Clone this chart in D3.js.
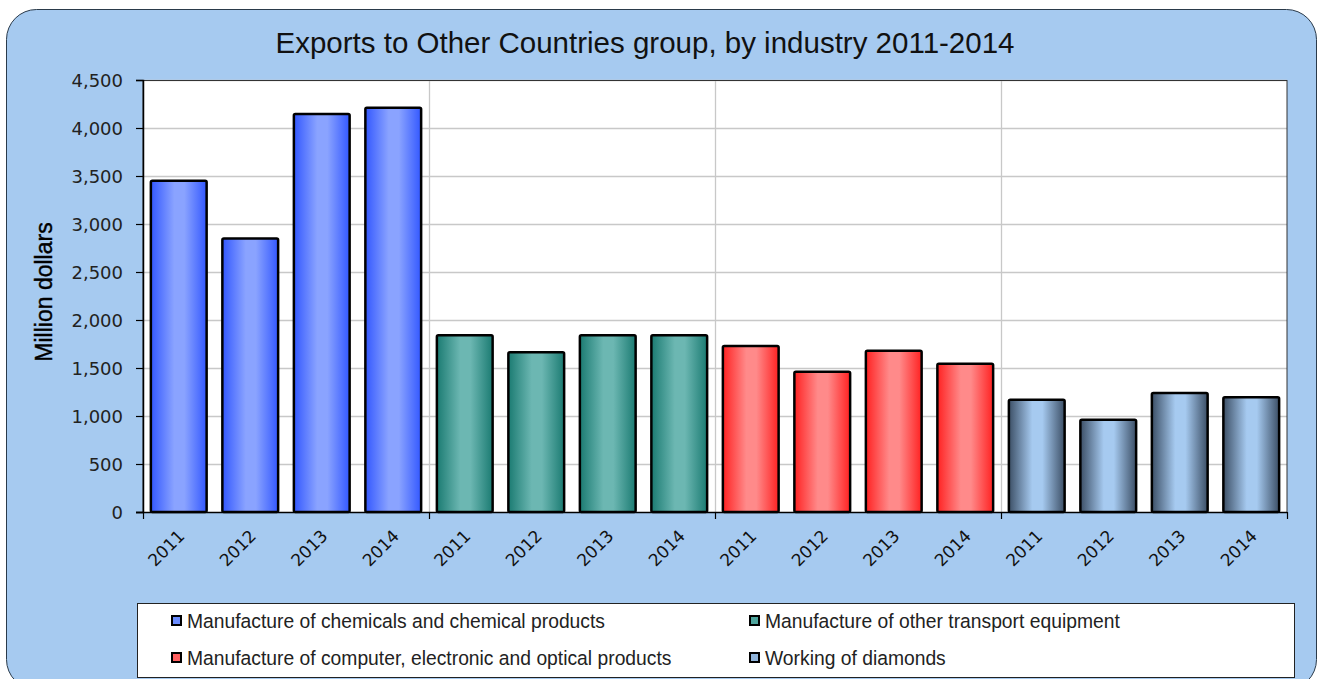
<!DOCTYPE html>
<html><head><meta charset="utf-8">
<script src="https://cdn.jsdelivr.net/npm/d3@7"></script>
<style>body{margin:0;background:#fff}svg{display:block}</style>
</head><body>
<svg id="chart" width="1322" height="679"></svg>
<script>
const title = "Exports to Other Countries group, by industry 2011-2014";
const years = ["2011","2012","2013","2014"];
const industries = [
  "Manufacture of chemicals and chemical products",
  "Manufacture of other transport equipment",
  "Manufacture of computer, electronic and optical products",
  "Working of diamonds"
];
const chemicals = [3450, 2850, 4145, 4210];
const transport = [1840, 1665, 1840, 1840];
const computer = [1730, 1460, 1680, 1545];
const diamonds = [1170, 960, 1240, 1195];
const yTicks = [0,500,1000,1500,2000,2500,3000,3500,4000,4500];
const palette = [
  {dark:"#3358ff", light:"#8aa3ff", sw:"#6a8cff"},
  {dark:"#1b7b72", light:"#6cb7b2", sw:"#4ea59d"},
  {dark:"#ff2222", light:"#ff8a8a", sw:"#ff6060"},
  {dark:"#3c4f66", light:"#a6caf0", sw:"#8fb3da"}
];
const seriesVals = [chemicals, transport, computer, diamonds];
const data = [];
industries.forEach((ind,i)=> years.forEach((y,j)=> data.push({key:i+"-"+y, ind:i, year:y, value:seriesVals[i][j]})));

const svg = d3.select("#chart");
const m = {left:143, right:1287, top:80, bottom:512};

// background
svg.append("rect").attr("x",6.5).attr("y",9.5).attr("width",1310).attr("height",680).attr("rx",30).attr("ry",30)
  .attr("fill","#a6caf0").attr("stroke","#2a3a4a").attr("stroke-width",1);

// gradients
const defs = svg.append("defs");
palette.forEach((p,i)=>{
  const g = defs.append("linearGradient").attr("id","g"+i).attr("x1","0").attr("x2","1").attr("y1","0").attr("y2","0");
  g.append("stop").attr("offset","0").attr("stop-color",p.dark);
  g.append("stop").attr("offset","0.42").attr("stop-color",p.light);
  g.append("stop").attr("offset","0.6").attr("stop-color",p.light);
  g.append("stop").attr("offset","1").attr("stop-color",p.dark);
});

const x = d3.scaleBand().domain(data.map(d=>d.key)).range([m.left,m.right]).paddingInner(0.22).paddingOuter(0.11);
const y = d3.scaleLinear().domain([0,4500]).range([m.bottom,m.top]);

// plot area
svg.append("rect").attr("x",m.left).attr("y",m.top).attr("width",m.right-m.left).attr("height",m.bottom-m.top).attr("fill","#fff");

// grid lines horizontal
svg.append("g").selectAll("line").data(yTicks.filter(t=>t>0)).join("line")
  .attr("x1",m.left).attr("x2",m.right).attr("y1",d=>Math.round(y(d))+0.5).attr("y2",d=>Math.round(y(d))+0.5)
  .attr("stroke","#c8c8c8").attr("stroke-width",1.3);
// vertical group separators
const step = (m.right-m.left)/data.length;
const seps = [1,2,3].map(i=>m.left + step*4*i);
svg.append("g").selectAll("line").data(seps).join("line")
  .attr("x1",d=>Math.round(d)+0.5).attr("x2",d=>Math.round(d)+0.5).attr("y1",m.top).attr("y2",m.bottom)
  .attr("stroke","#c8c8c8").attr("stroke-width",1.3);

// plot border
svg.append("rect").attr("x",m.left).attr("y",m.top+0.5).attr("width",m.right-m.left).attr("height",m.bottom-m.top)
  .attr("fill","none").attr("stroke","#333").attr("stroke-width",1);

// bars
svg.append("g").selectAll("rect").data(data).join("rect")
  .attr("x",d=>x(d.key)).attr("width",x.bandwidth())
  .attr("y",d=>y(d.value)).attr("height",d=>y(0)-y(d.value))
  .attr("rx",1.5)
  .attr("fill",d=>"url(#g"+d.ind+")").attr("stroke","#000").attr("stroke-width",2.5);

// y axis
const yAxis = d3.axisLeft(y).tickValues(yTicks).tickSize(7).tickFormat(d3.format(","));
const ya = svg.append("g").attr("transform",`translate(${m.left},0)`).call(yAxis);
ya.select(".domain").attr("stroke","#000").attr("stroke-width",1.5);
ya.selectAll(".tick line").attr("stroke","#000").attr("stroke-width",1.2);
ya.selectAll("text").attr("font-family","DejaVu Sans").attr("font-size",18).attr("fill","#222").attr("x",-20).attr("dy","0.36em");

// x axis line
svg.append("line").attr("x1",m.left-7).attr("x2",m.right).attr("y1",m.bottom+0.5).attr("y2",m.bottom+0.5).attr("stroke","#000").attr("stroke-width",1.5);
svg.append("g").selectAll("line").data(seps.concat([m.left,m.right])).join("line")
  .attr("x1",d=>Math.round(d)+0.5).attr("x2",d=>Math.round(d)+0.5).attr("y1",m.bottom).attr("y2",m.bottom+7)
  .attr("stroke","#000").attr("stroke-width",1.2);

// x labels
svg.append("g").selectAll("text").data(data).join("text")
  .attr("transform",d=>`translate(${x(d.key)+x.bandwidth()/2+7},${m.bottom+25}) rotate(-45)`)
  .attr("text-anchor","end").attr("font-family","DejaVu Sans").attr("font-size",17).attr("fill","#111")
  .text(d=>d.year);

// title
svg.append("text").attr("x",645).attr("y",53).attr("text-anchor","middle").attr("font-family","Liberation Sans")
  .attr("font-size",29.5).attr("fill","#111").text(title);

// y label
svg.append("text").attr("transform","translate(52,292) rotate(-90)").attr("text-anchor","middle")
  .attr("font-family","Liberation Sans").attr("font-size",23).attr("fill","#000").attr("stroke","#000").attr("stroke-width",0.4)
  .text("Million dollars");

// legend
svg.append("rect").attr("x",137.5).attr("y",603.5).attr("width",1157).attr("height",74).attr("fill","#fff").attr("stroke","#222");
const legPos = [[172,621],[750,621],[172,658],[750,658]];
const lg = svg.append("g").selectAll("g").data(industries).join("g")
  .attr("transform",(d,i)=>`translate(${legPos[i][0]},${legPos[i][1]})`);
lg.append("rect").attr("x",0).attr("y",-5).attr("width",9).attr("height",9)
  .attr("fill",(d,i)=>palette[i].sw).attr("stroke","#000").attr("stroke-width",2);
lg.append("text").attr("x",15).attr("y",7).attr("font-family","Liberation Sans").attr("font-size",19.3)
  .attr("fill","#222").text(d=>d);
</script>
</body></html>
